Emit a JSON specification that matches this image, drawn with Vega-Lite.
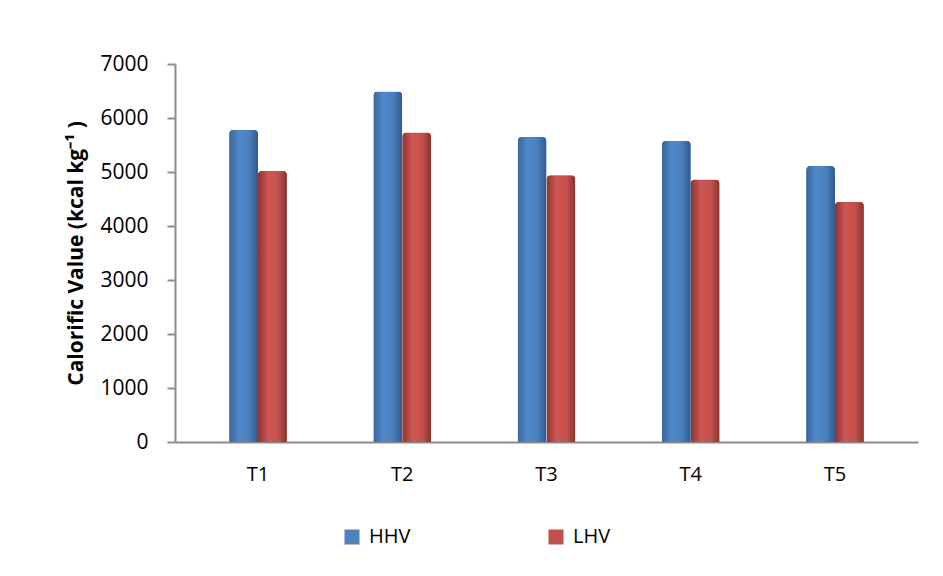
{
  "$schema": "https://vega.github.io/schema/vega-lite/v6.json",
  "autosize": {"type": "none"},
  "padding": {"left": 175, "top": 64, "right": 25, "bottom": 134},
  "width": 743,
  "height": 378,
  "background": "white",
  "config": {
    "font": "Open Sans",
    "view": {"stroke": null}
  },
  "data": {
    "values": [
      {"treatment": "T1", "series": "HHV", "value": 5780},
      {"treatment": "T1", "series": "LHV", "value": 5020},
      {"treatment": "T2", "series": "HHV", "value": 6490},
      {"treatment": "T2", "series": "LHV", "value": 5730},
      {"treatment": "T3", "series": "HHV", "value": 5650},
      {"treatment": "T3", "series": "LHV", "value": 4940},
      {"treatment": "T4", "series": "HHV", "value": 5580},
      {"treatment": "T4", "series": "LHV", "value": 4860},
      {"treatment": "T5", "series": "HHV", "value": 5110},
      {"treatment": "T5", "series": "LHV", "value": 4450}
    ]
  },
  "encoding": {
    "x": {
      "field": "treatment",
      "type": "nominal",
      "scale": {"paddingInner": 0.6, "paddingOuter": 0.3755},
      "axis": {
        "title": null,
        "labelAngle": 0,
        "labelFontSize": 20,
        "labelColor": "#000000",
        "labelPadding": 22,
        "ticks": false,
        "domainColor": "#8c8c8c",
        "domainWidth": 2
      }
    },
    "xOffset": {"field": "series", "type": "nominal"},
    "y": {
      "field": "value",
      "type": "quantitative",
      "scale": {"domain": [0, 7000]},
      "axis": {
        "title": "Calorific Value (kcal kg⁻¹ )",
        "titleFontSize": 21,
        "titleFontWeight": "bold",
        "titleColor": "#000000",
        "titlePadding": 13,
        "values": [0, 1000, 2000, 3000, 4000, 5000, 6000, 7000],
        "format": "d",
        "labelFontSize": 21,
        "labelColor": "#000000",
        "labelPadding": 19,
        "tickSize": 8,
        "tickColor": "#8c8c8c",
        "tickWidth": 2,
        "domainColor": "#8c8c8c",
        "domainWidth": 2,
        "grid": false
      }
    }
  },
  "layer": [
    {
      "mark": {"type": "bar", "cornerRadiusTopLeft": 4, "cornerRadiusTopRight": 4},
      "encoding": {
        "color": {
          "field": "series",
          "type": "nominal",
          "scale": {"domain": ["HHV", "LHV"], "range": ["#4F81BD", "#C0504D"]},
          "legend": {
            "title": null,
            "orient": "none",
            "direction": "horizontal",
            "legendX": 167,
            "legendY": 463,
            "symbolType": "square",
            "symbolSize": 225,
            "symbolStrokeWidth": 0,
            "labelFontSize": 20,
            "labelColor": "#000000",
            "labelOffset": 7,
            "columnPadding": 135
          }
        }
      }
    },
    {
      "transform": [{"filter": "datum.series === 'HHV'"}],
      "mark": {
        "type": "bar",
        "cornerRadiusTopLeft": 4,
        "cornerRadiusTopRight": 4,
        "fill": {
          "gradient": "linear",
          "x1": 0, "y1": 0, "x2": 1, "y2": 0,
          "stops": [
            {"offset": 0, "color": "#3a659c"},
            {"offset": 0.35, "color": "#5089ca"},
            {"offset": 0.7, "color": "#4a7fbc"},
            {"offset": 1, "color": "#30598c"}
          ]
        }
      },
      "encoding": {}
    },
    {
      "transform": [{"filter": "datum.series === 'LHV'"}],
      "mark": {
        "type": "bar",
        "cornerRadiusTopLeft": 4,
        "cornerRadiusTopRight": 4,
        "fill": {
          "gradient": "linear",
          "x1": 0, "y1": 0, "x2": 1, "y2": 0,
          "stops": [
            {"offset": 0, "color": "#8f3431"},
            {"offset": 0.35, "color": "#cc5653"},
            {"offset": 0.7, "color": "#c4504d"},
            {"offset": 1, "color": "#8a3330"}
          ]
        }
      },
      "encoding": {}
    }
  ]
}
